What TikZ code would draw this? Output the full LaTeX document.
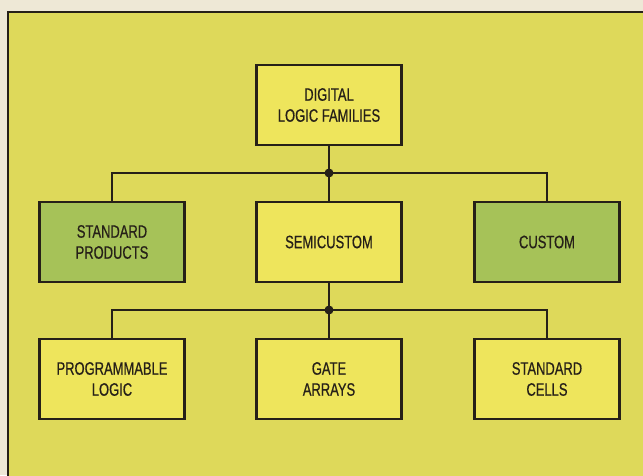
\documentclass[tikz,border=0pt]{standalone}
\usepackage{fontspec}
\newfontfamily\condf[FakeStretch=0.72,FakeBold=0.6]{Liberation Sans}
\definecolor{cream}{RGB}{238,232,214}
\definecolor{panel}{RGB}{222,217,90}
\definecolor{boxy}{RGB}{238,229,92}
\definecolor{boxg}{RGB}{166,194,88}
\definecolor{ink}{RGB}{38,32,24}
\begin{document}
\begin{tikzpicture}[x=1pt,y=-1pt,
  blk/.style={draw=ink, line width=2.8pt, minimum width=145pt, minimum height=80pt,
    inner sep=0pt, align=center, font=\condf\fontsize{18}{21}\selectfont, text=ink},
  ybox/.style={blk, fill=boxy},
  gbox/.style={blk, fill=boxg},
  wire/.style={draw=ink, line width=1.3pt},
  jdot/.style={circle, fill=ink, inner sep=0pt, minimum size=9pt}]
\useasboundingbox (0,0) rectangle (643,475);
\fill[cream] (0,0) rectangle (643,475);
\draw[draw=ink, line width=2pt, fill=panel] (8,12) rectangle (670,500);
% nodes
\node[ybox] (top) at (329,105) {DIGITAL\\LOGIC FAMILIES};
\node[gbox] (std) at (112,242) {STANDARD\\PRODUCTS};
\node[ybox] (semi) at (329,242) {SEMICUSTOM};
\node[gbox] (cust) at (547,242) {CUSTOM};
\node[ybox] (prog) at (112,379) {PROGRAMMABLE\\LOGIC};
\node[ybox] (gate) at (329,379) {GATE\\ARRAYS};
\node[ybox] (cell) at (547,379) {STANDARD\\CELLS};
\coordinate (j1) at (329,173);
\coordinate (j2) at (329,310);
% connectors
\draw[wire] (top.south) -- (j1) -- (semi.north);
\draw[wire] (j1) -| (std.north);
\draw[wire] (j1) -| (cust.north);
\draw[wire] (semi.south) -- (j2) -- (gate.north);
\draw[wire] (j2) -| (prog.north);
\draw[wire] (j2) -| (cell.north);
\node[jdot] (d1) at (j1) {};
\node[jdot] (d2) at (j2) {};
\end{tikzpicture}
\end{document}
